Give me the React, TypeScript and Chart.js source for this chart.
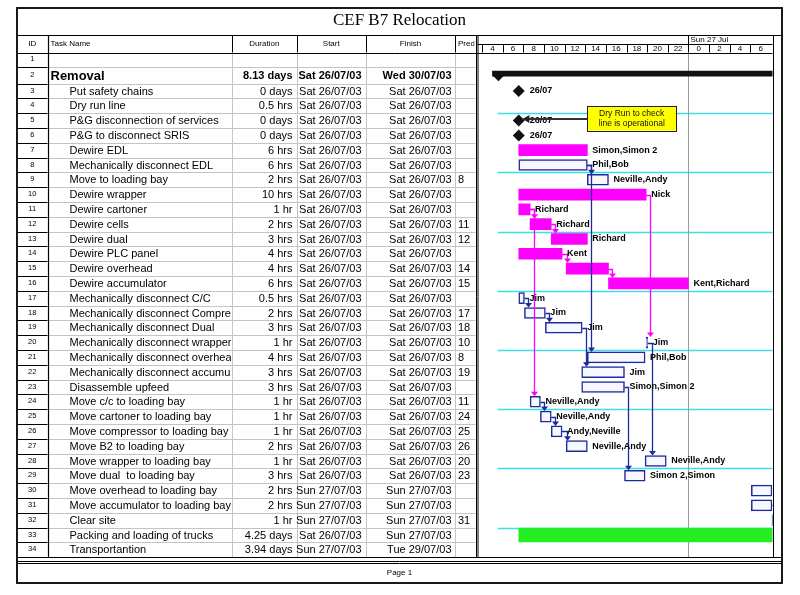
import React, { useEffect, useRef } from "react";
import { Chart, registerables } from "chart.js";

Chart.register(...registerables);

// ---------------- data ----------------
const chartTitle = "CEF B7 Relocation";
const footerText = "Page 1";
const columnHeaders = ["ID", "Task Name", "Duration", "Start", "Finish", "Predecessors"];

const taskIds = [
  1, 2, 3, 4, 5, 6, 7, 8, 9, 10, 11, 12, 13, 14, 15, 16, 17,
  18, 19, 20, 21, 22, 23, 24, 25, 26, 27, 28, 29, 30, 31, 32, 33, 34,
];

const taskNames = [
  "",
  "Removal",
  "Put safety chains",
  "Dry run line",
  "P&G disconnection of services",
  "P&G to disconnect SRIS",
  "Dewire EDL",
  "Mechanically disconnect EDL",
  "Move to loading bay",
  "Dewire wrapper",
  "Dewire cartoner",
  "Dewire cells",
  "Dewire dual",
  "Dewire PLC panel",
  "Dewire overhead",
  "Dewire accumulator",
  "Mechanically disconnect C/C",
  "Mechanically disconnect Compressor",
  "Mechanically disconnect Dual",
  "Mechanically disconnect wrapper",
  "Mechanically disconnect overhead",
  "Mechanically disconnect accumulator",
  "Disassemble upfeed",
  "Move c/c to loading bay",
  "Move cartoner to loading bay",
  "Move compressor to loading bay",
  "Move B2 to loading bay",
  "Move wrapper to loading bay",
  "Move dual  to loading bay",
  "Move overhead to loading bay",
  "Move accumulator to loading bay",
  "Clear site",
  "Packing and loading of trucks",
  "Transportantion",
];

const durations = [
  "", "8.13 days", "0 days", "0.5 hrs", "0 days", "0 days", "6 hrs", "6 hrs", "2 hrs",
  "10 hrs", "1 hr", "2 hrs", "3 hrs", "4 hrs", "4 hrs", "6 hrs", "0.5 hrs", "2 hrs",
  "3 hrs", "1 hr", "4 hrs", "3 hrs", "3 hrs", "1 hr", "1 hr", "1 hr", "2 hrs", "1 hr",
  "3 hrs", "2 hrs", "2 hrs", "1 hr", "4.25 days", "3.94 days",
];

const startDates = [
  "", "Sat 26/07/03", "Sat 26/07/03", "Sat 26/07/03", "Sat 26/07/03", "Sat 26/07/03",
  "Sat 26/07/03", "Sat 26/07/03", "Sat 26/07/03", "Sat 26/07/03", "Sat 26/07/03",
  "Sat 26/07/03", "Sat 26/07/03", "Sat 26/07/03", "Sat 26/07/03", "Sat 26/07/03",
  "Sat 26/07/03", "Sat 26/07/03", "Sat 26/07/03", "Sat 26/07/03", "Sat 26/07/03",
  "Sat 26/07/03", "Sat 26/07/03", "Sat 26/07/03", "Sat 26/07/03", "Sat 26/07/03",
  "Sat 26/07/03", "Sat 26/07/03", "Sat 26/07/03", "Sun 27/07/03", "Sun 27/07/03",
  "Sun 27/07/03", "Sat 26/07/03", "Sun 27/07/03",
];

const finishDates = [
  "", "Wed 30/07/03", "Sat 26/07/03", "Sat 26/07/03", "Sat 26/07/03", "Sat 26/07/03",
  "Sat 26/07/03", "Sat 26/07/03", "Sat 26/07/03", "Sat 26/07/03", "Sat 26/07/03",
  "Sat 26/07/03", "Sat 26/07/03", "Sat 26/07/03", "Sat 26/07/03", "Sat 26/07/03",
  "Sat 26/07/03", "Sat 26/07/03", "Sat 26/07/03", "Sat 26/07/03", "Sat 26/07/03",
  "Sat 26/07/03", "Sat 26/07/03", "Sat 26/07/03", "Sat 26/07/03", "Sat 26/07/03",
  "Sat 26/07/03", "Sat 26/07/03", "Sat 26/07/03", "Sun 27/07/03", "Sun 27/07/03",
  "Sun 27/07/03", "Sun 27/07/03", "Tue 29/07/03",
];

const predecessors = [
  "", "", "", "", "", "", "", "", "8", "", "", "11", "12", "", "14", "15", "",
  "17", "18", "10", "8", "19", "", "11", "24", "25", "26", "20", "23", "", "", "31", "", "",
];

// blank | summary | milestone | hidden | dewire | task | packing
const taskKinds = [
  "blank", "summary", "milestone", "hidden", "milestone", "milestone",
  "dewire", "task", "task",
  "dewire", "dewire", "dewire", "dewire", "dewire", "dewire", "dewire",
  "task", "task", "task", "task", "task", "task", "task", "task", "task",
  "task", "task", "task", "task", "task", "task", "task",
  "packing", "task",
];

// hours counted from Sat 26/07 00:00
const barStartHours = [
  null, 5.0, 7.55, null, 7.55, 7.55, 7.55, 7.55, 14.2, 7.55, 7.55, 8.65, 10.7,
  7.55, 12.15, 16.25, 7.55, 8.1, 10.13, 19.9, 14.2, 13.65, 13.65, 8.65, 9.65,
  10.7, 12.15, 19.8, 17.8, 30.1, 30.1, 32.1, 7.55, 33.1,
];
const barEndHours = [
  null, 120, 7.55, null, 7.55, 7.55, 14.2, 14.2, 16.25, 19.9, 8.65, 10.7, 14.2,
  11.75, 16.25, 24, 8.1, 10.13, 13.7, 20.05, 19.8, 17.8, 17.8, 9.65, 10.7,
  11.75, 14.2, 21.85, 19.8, 32.1, 32.1, 33.1, 40, 95,
];

const barLabels = [
  "", "", "26/07", "", "26/07", "26/07", "Simon,Simon 2", "Phil,Bob", "Neville,Andy",
  "Nick", "Richard", "Richard", "Richard", "Kent", "", "Kent,Richard", "Jim", "Jim",
  "Jim", "Jim", "Phil,Bob", "Jim", "Simon,Simon 2", "Neville,Andy", "Neville,Andy",
  "Andy,Neville", "Neville,Andy", "Neville,Andy", "Simon 2,Simon", "", "", "", "", "",
];

const timescaleHours = [4, 6, 8, 10, 12, 14, 16, 18, 20, 22, 24, 26, 28, 30];
const dayBoundaryHour = 24;
const dayBoundaryLabel = "Sun 27 Jul";
const axisMinHour = 3.55;
const axisMaxHour = 32.15;

const noteLines = ["Dry Run to check", "line is operational"];
const noteFromHour = 14.2;
const noteToHour = 22.8;
const noteTopRow = 3.62;
const noteBottomRow = 5.28;
const notePointerRow = 4.5;
const notePointerHour = 7.9;
const cyanStartHour = 5.5;

// ---------------- style / layout ----------------
const FONT = '"Liberation Sans", Arial, sans-serif';
const SERIF = '"Liberation Serif", "Times New Roman", serif';
const MAGENTA = "#ff00ff";
const BLUE = "#1b2a9c";
const BOX_FILL = "#f7f8ff";
const GREEN = "#22ee22";
const CYAN = "#40dde6";
const GRID = "#c4c4c4";

const W = 800;
const H = 595;
const FRAME_L = 17;
const FRAME_R = 782;
const FRAME_T = 8;
const FRAME_B = 583;
const TITLE_B = 35;
const HEADER_B = 52.5;
const TIER_SPLIT = 44;
const COLS = [47.5, 232, 296.5, 366, 455, 475.5];
const GANTT_L = 477.5;
const GANTT_R = 772.5;
const ROW_PX = 14.8;
const SUMMARY_ROW_SCALE = 1.1;
const SUMMARY_BAR_SHIFT = 0.12;
const BAR_H = 11;
const SUMMARY_H = 5;
const PACK_H = 14;

const rowUnits = taskKinds.map((k) => (k === "summary" ? SUMMARY_ROW_SCALE : 1));
const rowTops: number[] = [];
let accUnits = 0;
rowUnits.forEach((u) => {
  rowTops.push(accUnits);
  accUnits += u;
});
const TOTAL_UNITS = accUnits;
const TABLE_B = HEADER_B + TOTAL_UNITS * ROW_PX;
const rowCenter = (i: number) => rowTops[i] + rowUnits[i] / 2;

function barPoints(kind: string) {
  const pts: any[] = [];
  taskKinds.forEach((k, i) => {
    if (k === kind && barStartHours[i] != null) {
      const yv = kind === "summary" ? rowCenter(i) - SUMMARY_BAR_SHIFT : rowCenter(i);
      pts.push({ x: [barStartHours[i], barEndHours[i]], y: yv });
    }
  });
  return pts;
}

function milestonePoints() {
  const pts: any[] = [];
  taskKinds.forEach((k, i) => {
    if (k === "milestone") pts.push({ x: barStartHours[i], y: rowCenter(i) });
  });
  return pts;
}

const crisp = (v: number) => Math.round(v) + 0.5;

function hLine(ctx: any, x1: number, x2: number, y: number, color: string, w = 1) {
  ctx.strokeStyle = color;
  ctx.lineWidth = w;
  ctx.beginPath();
  ctx.moveTo(x1, y);
  ctx.lineTo(x2, y);
  ctx.stroke();
}
function vLine(ctx: any, x: number, y1: number, y2: number, color: string, w = 1) {
  ctx.strokeStyle = color;
  ctx.lineWidth = w;
  ctx.beginPath();
  ctx.moveTo(x, y1);
  ctx.lineTo(x, y2);
  ctx.stroke();
}
function text(ctx: any, s: string, x: number, y: number, font: string, align = "left", color = "#000") {
  ctx.font = font;
  ctx.textAlign = align;
  ctx.textBaseline = "middle";
  ctx.fillStyle = color;
  ctx.fillText(s, x, y);
}

const ganttPlugin = {
  id: "ganttDecor",
  beforeDraw(chart: any) {
    const { ctx } = chart;
    ctx.save();
    ctx.fillStyle = "#fff";
    ctx.fillRect(0, 0, chart.width, chart.height);
    ctx.restore();
  },
  beforeDatasetsDraw(chart: any) {
    const { ctx, chartArea: ca, scales } = chart;
    const x = scales.x;
    const y = scales.y;
    ctx.save();
    taskIds.forEach((id, i) => {
      if (id % 4 === 0 && i < taskIds.length - 1) {
        const yy = crisp(y.getPixelForValue(rowTops[i] + rowUnits[i]));
        hLine(ctx, x.getPixelForValue(cyanStartHour), ca.right, yy, CYAN, 1.5);
      }
    });
    const dx = crisp(x.getPixelForValue(dayBoundaryHour));
    vLine(ctx, dx, ca.top, ca.bottom, "#9a9a9a", 1);
    ctx.restore();
  },
  afterDatasetsDraw(chart: any) {
    const { ctx, chartArea: ca, scales } = chart;
    const x = scales.x;
    const y = scales.y;
    ctx.save();
    ctx.beginPath();
    ctx.rect(ca.left, ca.top, ca.right - ca.left, ca.bottom - ca.top);
    ctx.clip();

    // summary start cap
    taskKinds.forEach((k, i) => {
      if (k !== "summary") return;
      const sx = x.getPixelForValue(barStartHours[i]);
      const by = y.getPixelForValue(rowCenter(i) - SUMMARY_BAR_SHIFT) + SUMMARY_H / 2;
      ctx.fillStyle = "#111";
      ctx.beginPath();
      ctx.moveTo(sx, by - 1);
      ctx.lineTo(sx + 12, by - 1);
      ctx.lineTo(sx + 6, by + 5);
      ctx.closePath();
      ctx.fill();
    });

    // links
    predecessors.forEach((p, si) => {
      if (!p) return;
      p.split(",").forEach((ps) => {
        const pi = taskIds.indexOf(parseInt(ps, 10));
        if (pi < 0 || barEndHours[pi] == null || barStartHours[si] == null) return;
        const pEnd = x.getPixelForValue(barEndHours[pi]);
        const sStart = x.getPixelForValue(barStartHours[si]);
        const lx = crisp(Math.max(pEnd + 4, sStart + 1));
        const py = crisp(y.getPixelForValue(rowCenter(pi)));
        const sy = y.getPixelForValue(rowCenter(si)) - BAR_H / 2;
        const col = taskKinds[pi] === "dewire" ? MAGENTA : BLUE;
        ctx.strokeStyle = col;
        ctx.lineWidth = 1.3;
        ctx.beginPath();
        ctx.moveTo(pEnd, py);
        ctx.lineTo(lx, py);
        ctx.lineTo(lx, sy - 3);
        ctx.stroke();
        ctx.fillStyle = col;
        ctx.beginPath();
        ctx.moveTo(lx - 3.5, sy - 4.5);
        ctx.lineTo(lx + 3.5, sy - 4.5);
        ctx.lineTo(lx, sy);
        ctx.closePath();
        ctx.fill();
      });
    });

    // bar labels
    barLabels.forEach((lab, i) => {
      if (!lab || barEndHours[i] == null) return;
      const ex = x.getPixelForValue(barEndHours[i]);
      const off = taskKinds[i] === "milestone" ? 11 : 5;
      text(ctx, lab, ex + off, y.getPixelForValue(rowCenter(i)), "bold 9px " + FONT);
    });

    // note
    const nx1 = x.getPixelForValue(noteFromHour);
    const nx2 = x.getPixelForValue(noteToHour);
    const ny1 = y.getPixelForValue(noteTopRow);
    const ny2 = y.getPixelForValue(noteBottomRow);
    const pyy = y.getPixelForValue(notePointerRow);
    const pxx = x.getPixelForValue(notePointerHour);
    ctx.strokeStyle = "#333";
    ctx.lineWidth = 2;
    ctx.beginPath();
    ctx.moveTo(nx1, pyy);
    ctx.lineTo(pxx + 4, pyy);
    ctx.stroke();
    ctx.fillStyle = "#222";
    ctx.beginPath();
    ctx.moveTo(pxx, pyy);
    ctx.lineTo(pxx + 7, pyy - 4);
    ctx.lineTo(pxx + 7, pyy + 4);
    ctx.closePath();
    ctx.fill();
    ctx.fillStyle = "#ffff00";
    ctx.fillRect(nx1, ny1, nx2 - nx1, ny2 - ny1);
    ctx.strokeStyle = "#222";
    ctx.lineWidth = 1;
    ctx.strokeRect(crisp(nx1), crisp(ny1), Math.round(nx2 - nx1), Math.round(ny2 - ny1));
    const ncx = (nx1 + nx2) / 2;
    const nh = ny2 - ny1;
    text(ctx, noteLines[0], ncx, ny1 + nh * 0.3, "8.5px " + FONT, "center", "#111");
    text(ctx, noteLines[1], ncx, ny1 + nh * 0.7, "8.5px " + FONT, "center", "#111");
    ctx.restore();
  },
  afterDraw(chart: any) {
    const { ctx, chartArea: ca, scales } = chart;
    const x = scales.x;
    const y = scales.y;
    ctx.save();

    // ---- title
    text(ctx, chartTitle, (FRAME_L + FRAME_R) / 2, 21, "17px " + SERIF, "center");

    // ---- table grid
    const tb = crisp(ca.bottom);
    taskIds.forEach((_, i) => {
      const yb = crisp(y.getPixelForValue(rowTops[i] + rowUnits[i]));
      if (i < taskIds.length - 1) hLine(ctx, COLS[0], COLS[5], yb, GRID, 1);
      hLine(ctx, FRAME_L, COLS[0], yb, "#000", 1);
    });
    for (let c = 1; c <= 4; c++) vLine(ctx, crisp(COLS[c]), HEADER_B, tb, GRID, 1);
    for (let c = 1; c <= 4; c++) vLine(ctx, crisp(COLS[c]), TITLE_B, HEADER_B, "#000", 1);
    vLine(ctx, crisp(COLS[0]), TITLE_B, tb, "#000", 1.2);
    vLine(ctx, crisp(COLS[5]), TITLE_B, tb, "#000", 1);
    vLine(ctx, crisp(GANTT_L) - 0.5, TITLE_B, tb, "#000", 1);

    // ---- header labels
    const hy = (TITLE_B + HEADER_B) / 2;
    const hf = "8px " + FONT;
    text(ctx, columnHeaders[0], (FRAME_L + COLS[0]) / 2, hy, hf, "center");
    text(ctx, columnHeaders[1], COLS[0] + 3, hy, hf);
    text(ctx, columnHeaders[2], (COLS[1] + COLS[2]) / 2, hy, hf, "center");
    text(ctx, columnHeaders[3], (COLS[2] + COLS[3]) / 2, hy, hf, "center");
    text(ctx, columnHeaders[4], (COLS[3] + COLS[4]) / 2, hy, hf, "center");
    ctx.save();
    ctx.beginPath();
    ctx.rect(COLS[4], TITLE_B, COLS[5] - COLS[4] - 1, HEADER_B - TITLE_B);
    ctx.clip();
    text(ctx, columnHeaders[5], COLS[4] + 3, hy, hf);
    ctx.restore();

    // ---- rows
    taskIds.forEach((id, i) => {
      const cy = y.getPixelForValue(rowCenter(i)) + 0.5;
      const bold = taskKinds[i] === "summary";
      const f = (bold ? "bold " : "") + "11px " + FONT;
      text(ctx, String(id), (FRAME_L + COLS[0]) / 2, cy - 1, "7.5px " + FONT, "center");
      ctx.save();
      ctx.beginPath();
      ctx.rect(COLS[0], cy - 8, COLS[1] - COLS[0] - 1, 16);
      ctx.clip();
      if (bold) text(ctx, taskNames[i], COLS[0] + 3, cy, "bold 13px " + FONT);
      else text(ctx, taskNames[i], COLS[0] + 22, cy, f);
      ctx.restore();
      text(ctx, durations[i], COLS[2] - 4, cy, f, "right");
      text(ctx, startDates[i], COLS[3] - 4.5, cy, f, "right");
      text(ctx, finishDates[i], COLS[4] - 3.5, cy, f, "right");
      text(ctx, predecessors[i], COLS[4] + 3, cy, "11px " + FONT);
    });

    // ---- timescale header
    hLine(ctx, GANTT_L, GANTT_R, crisp(TIER_SPLIT), "#000", 1);
    const dx = crisp(x.getPixelForValue(dayBoundaryHour));
    vLine(ctx, dx, TITLE_B, TIER_SPLIT, "#000", 1);
    text(ctx, dayBoundaryLabel, dx + 2, (TITLE_B + TIER_SPLIT) / 2 + 0.5, "8px " + FONT);
    const tickY = (TIER_SPLIT + HEADER_B) / 2 + 0.5;
    timescaleHours.forEach((h) => {
      const l = x.getPixelForValue(h);
      const r = Math.min(x.getPixelForValue(h + 2), ca.right);
      vLine(ctx, crisp(l), TIER_SPLIT, HEADER_B, "#000", 1);
      text(ctx, String(h % 24), (l + r) / 2, tickY, "8px " + FONT, "center");
    });

    // ---- frame lines
    hLine(ctx, FRAME_L, FRAME_R, crisp(TITLE_B), "#000", 1.2);
    hLine(ctx, FRAME_L, GANTT_R, crisp(HEADER_B), "#000", 1);
    vLine(ctx, crisp(GANTT_R), TITLE_B, tb, "#000", 1);
    hLine(ctx, FRAME_L, FRAME_R, tb, "#000", 1.2);
    hLine(ctx, FRAME_L, FRAME_R, tb + 4, "#000", 1);
    hLine(ctx, FRAME_L, FRAME_R, tb + 6, "#000", 1);
    ctx.strokeStyle = "#000";
    ctx.lineWidth = 1.8;
    ctx.strokeRect(FRAME_L, FRAME_T, FRAME_R - FRAME_L, FRAME_B - FRAME_T);
    text(ctx, footerText, (FRAME_L + FRAME_R) / 2, (tb + 6 + FRAME_B) / 2, "8px " + FONT, "center");
    ctx.restore();
  },
};

export default function App() {
  const canvasRef = useRef<HTMLCanvasElement | null>(null);

  useEffect(() => {
    const canvas = canvasRef.current;
    if (!canvas) return;
    const chart = new Chart(canvas, {
      type: "bar",
      data: {
        datasets: [
          {
            type: "bar",
            indexAxis: "y",
            data: barPoints("summary"),
            backgroundColor: "#111",
            borderWidth: 0,
            barThickness: SUMMARY_H,
            grouped: false,
          },
          {
            type: "bar",
            indexAxis: "y",
            data: barPoints("dewire"),
            backgroundColor: MAGENTA,
            borderWidth: 0,
            barThickness: BAR_H,
            grouped: false,
          },
          {
            type: "bar",
            indexAxis: "y",
            data: barPoints("task"),
            backgroundColor: BOX_FILL,
            borderColor: BLUE,
            borderWidth: 1.5,
            borderSkipped: false,
            barThickness: BAR_H,
            grouped: false,
          },
          {
            type: "bar",
            indexAxis: "y",
            data: barPoints("packing"),
            backgroundColor: GREEN,
            borderWidth: 0,
            barThickness: PACK_H,
            grouped: false,
          },
          {
            type: "scatter",
            data: milestonePoints(),
            pointStyle: "rectRot",
            pointRadius: 6,
            backgroundColor: "#111",
            borderColor: "#111",
            borderWidth: 0,
          },
        ] as any,
      },
      options: {
        animation: false,
        responsive: false,
        maintainAspectRatio: false,
        devicePixelRatio: 1,
        layout: {
          padding: { left: GANTT_L, right: W - GANTT_R, top: HEADER_B, bottom: H - TABLE_B },
        },
        plugins: { legend: { display: false }, tooltip: { enabled: false } },
        scales: {
          x: {
            type: "linear",
            min: axisMinHour,
            max: axisMaxHour,
            display: false,
            offset: false,
            grid: { offset: false },
          },
          y: {
            type: "linear",
            min: 0,
            max: TOTAL_UNITS,
            reverse: true,
            display: false,
            offset: false,
            grid: { offset: false },
          },
        },
      } as any,
      plugins: [ganttPlugin as any],
    });
    return () => chart.destroy();
  }, []);

  return (
    <div style={{ position: "absolute", left: 0, top: 0, width: W, height: H, background: "#fff" }}>
      <canvas ref={canvasRef} width={W} height={H} style={{ display: "block" }} />
    </div>
  );
}
